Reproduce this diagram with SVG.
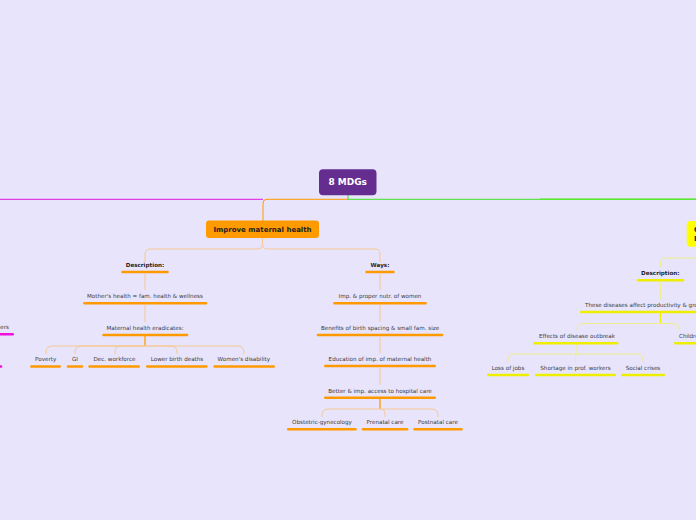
<svg xmlns="http://www.w3.org/2000/svg" width="696" height="520" viewBox="0 0 696 520">
<style>
text{font-family:"DejaVu Sans","Liberation Sans",sans-serif;font-size:5.6px;fill:#3a3a3a;text-anchor:middle}
.b{font-weight:bold;fill:#1e1e1e}
.ul{stroke-width:2.6;stroke-linecap:round;fill:none}
.uo{stroke:#ff9900}.uy{stroke:#eeee00}.um{stroke:#f010e0}
.lo{stroke:#f6c892;stroke-width:1;fill:none}
.ly{stroke:#eeee8a;stroke-width:1;fill:none}
.to{stroke:#ff9900;stroke-width:1.3;fill:none}
.ty{stroke:#eeee00;stroke-width:1.3;fill:none}
</style>
<rect width="696" height="520" fill="#e8e4fb"/>
<g id="connectors">
<path d="M0,199.3 H263" stroke="#e214e0" stroke-width="1" fill="none"/>
<path d="M348,199.3 H267 Q263,199.3 263,203 V221" stroke="#ff9900" stroke-width="1" fill="none"/>
<path d="M348,195 V199.3 H696" stroke="#3ee024" stroke-width="1" fill="none"/>
<path d="M540,199.3 H696" stroke="#5ce830" stroke-width="1.6" fill="none"/>
<path class="lo" d="M262.5,238 V244 Q262.5,249 257.5,249 H150 Q145,249 145,254 V262"/>
<path class="lo" d="M262.5,238 V244 Q262.5,249 267.5,249 H375 Q380,249 380,254 V262"/>
<path class="lo" d="M145,274 V290"/>
<path class="lo" d="M145,305 V322"/>
<path class="to" d="M145,336 V346"/>
<path class="lo" d="M145,346 H53 Q46,346 46,352 V354"/>
<path class="lo" d="M145,346 H82 Q75,346 75,352 V354"/>
<path class="lo" d="M145,346 H122 Q115,346 115,352 V354"/>
<path class="lo" d="M145,346 H170 Q177,346 177,352 V354"/>
<path class="lo" d="M145,346 H237 Q244,346 244,352 V354"/>
<path class="lo" d="M380,274 V290"/>
<path class="lo" d="M380,305 V322"/>
<path class="lo" d="M380,337 V353"/>
<path class="lo" d="M380,368 V385"/>
<path class="to" d="M380,399 V409"/>
<path class="lo" d="M380,409 H329 Q322,409 322,415 V417"/>
<path class="lo" d="M380,409 Q385,409 385,414 V417"/>
<path class="lo" d="M380,409 H431 Q438,409 438,415 V417"/>
<path class="ly" d="M700,258 H665 Q660.5,258 660.5,262.5 V267"/>
<path class="ly" d="M660.5,282 V299"/>
<path class="ty" d="M660.5,313 V323.5"/>
<path class="ly" d="M660.5,323.5 H583 Q577,323.5 577,329 V330"/>
<path class="ly" d="M660.5,323.5 H673 Q679,323.5 679,329 V330"/>
<path class="ly" d="M577,344 V354"/>
<path class="ly" d="M577,354 H515 Q508,354 508,360 V362"/>
<path class="ly" d="M577,354 Q575.5,354 575.5,357 V362"/>
<path class="ly" d="M577,354 H636 Q643,354 643,360 V362"/>
</g>
<g id="root">
<rect x="319" y="169.3" width="57.5" height="25.9" rx="4" fill="#662d91"/>
<text x="347.7" y="185.4" style="font-size:9px;font-weight:bold;fill:#ffffff">8 MDGs</text>
</g>
<g id="maternal">
<rect x="206" y="220.5" width="113" height="17.5" rx="3" fill="#ff9a00"/>
<text class="b" x="262.5" y="232" style="font-size:7px">Improve maternal health</text>
</g>
<g id="diseases">
<rect x="686.7" y="221" width="40" height="25.7" rx="4" fill="#ffff00"/>
<text class="b" x="694" y="232" style="font-size:7px;text-anchor:start">Combat HIV/AIDS, malaria</text>
<text class="b" x="694" y="241" style="font-size:7px;text-anchor:start">Diseases</text>
</g>
<g id="m-description"><text class="b" x="145" y="267.3">Description:</text><line class="ul uo" x1="122.5" y1="272" x2="167.5" y2="272"/></g>
<g id="m-mothers"><text x="145" y="298.3">Mother's health = fam. health &amp; wellness</text><line class="ul uo" x1="84.5" y1="303.3" x2="206" y2="303.3"/></g>
<g id="m-eradicates"><text x="145" y="330">Maternal health eradicates:</text><line class="ul uo" x1="103.5" y1="335" x2="187" y2="335"/></g>
<g id="m-poverty"><text x="45.7" y="361">Poverty</text><line class="ul uo" x1="31.3" y1="366.5" x2="59.7" y2="366.5"/></g>
<g id="m-gi"><text x="75" y="361">GI</text><line class="ul uo" x1="68" y1="366.5" x2="82" y2="366.5"/></g>
<g id="m-workforce"><text x="114.5" y="361">Dec. workforce</text><line class="ul uo" x1="89.6" y1="366.5" x2="138.7" y2="366.5"/></g>
<g id="m-birth"><text x="177" y="361">Lower birth deaths</text><line class="ul uo" x1="147.3" y1="366.5" x2="206.4" y2="366.5"/></g>
<g id="m-disability"><text x="243.8" y="361">Women's disability</text><line class="ul uo" x1="214.6" y1="366.5" x2="273.7" y2="366.5"/></g>
<g id="m-ways"><text class="b" x="380" y="267.3">Ways:</text><line class="ul uo" x1="366.5" y1="272" x2="393.5" y2="272"/></g>
<g id="m-nutr"><text x="380" y="298.3">Imp. &amp; proper nutr. of women</text><line class="ul uo" x1="334.5" y1="303.3" x2="425.5" y2="303.3"/></g>
<g id="m-spacing"><text x="380" y="330">Benefits of birth spacing &amp; small fam. size</text><line class="ul uo" x1="318" y1="335" x2="442" y2="335"/></g>
<g id="m-education"><text x="380" y="361">Education of imp. of maternal health</text><line class="ul uo" x1="325.3" y1="366" x2="434.7" y2="366"/></g>
<g id="m-access"><text x="380" y="392.7">Better &amp; imp. access to hospital care</text><line class="ul uo" x1="325.3" y1="397.7" x2="434.7" y2="397.7"/></g>
<g id="m-obstetric"><text x="322" y="424.3">Obstetric-gynecology</text><line class="ul uo" x1="288.3" y1="429.3" x2="355.4" y2="429.3"/></g>
<g id="m-prenatal"><text x="385" y="424.3">Prenatal care</text><line class="ul uo" x1="363" y1="429.3" x2="407" y2="429.3"/></g>
<g id="m-postnatal"><text x="438" y="424.3">Postnatal care</text><line class="ul uo" x1="414.6" y1="429.3" x2="461.4" y2="429.3"/></g>
<g id="d-description"><text class="b" x="660.3" y="275.3">Description:</text><line class="ul uy" x1="638" y1="280.3" x2="683" y2="280.3"/></g>
<g id="d-productivity"><text x="585" y="307" style="text-anchor:start">These diseases affect productivity &amp; growth</text><line class="ul uy" x1="581.3" y1="312" x2="710" y2="312"/></g>
<g id="d-effects"><text x="577" y="338.2">Effects of disease outbreak</text><line class="ul uy" x1="534.5" y1="343.3" x2="617" y2="343.3"/></g>
<g id="d-children"><text x="679" y="338.2" style="text-anchor:start">Children</text><line class="ul uy" x1="675.3" y1="343.3" x2="710" y2="343.3"/></g>
<g id="d-jobs"><text x="508" y="370">Loss of jobs</text><line class="ul uy" x1="488.3" y1="375" x2="527.7" y2="375"/></g>
<g id="d-shortage"><text x="575.5" y="370">Shortage in prof. workers</text><line class="ul uy" x1="536.3" y1="375" x2="614.7" y2="375"/></g>
<g id="d-social"><text x="643" y="370">Social crises</text><line class="ul uy" x1="622.3" y1="375" x2="663.7" y2="375"/></g>
<g id="e-teachers"><text x="9" y="329.3" style="text-anchor:end">Lack of teachers</text><line class="ul um" x1="-5" y1="334.3" x2="12.7" y2="334.3"/></g>
<g id="e-other"><line class="ul um" x1="-5" y1="366.5" x2="1" y2="366.5"/></g>
</svg>
